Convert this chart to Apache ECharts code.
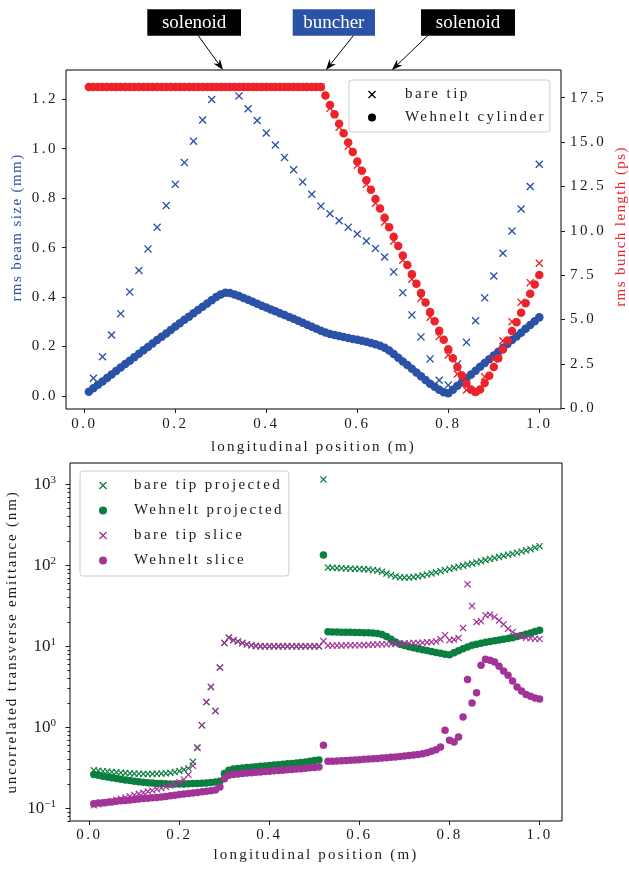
<!DOCTYPE html>
<html><head><meta charset="utf-8">
<script src="https://cdn.jsdelivr.net/npm/echarts@6/dist/echarts.min.js"></script>
<style>html,body{margin:0;padding:0;background:#fff}#c{width:629px;height:870px}</style>
</head><body><div id="c"></div>
<script>
// letter-spacing helper: a font family token "lsXpY" requests X.Y px spacing
(function () {
  var P = window.CanvasRenderingContext2D && CanvasRenderingContext2D.prototype;
  if (!P || !('letterSpacing' in P)) return;
  function sp(font) { var m = /ls(\d+)p(\d+)/.exec(font); return m ? (m[1] + '.' + m[2] + 'px') : '0px'; }
  var ft = P.fillText, mt = P.measureText;
  P.fillText = function (t, x, y, w) { this.letterSpacing = sp(this.font); return w === undefined ? ft.call(this, t, x, y) : ft.call(this, t, x, y, w); };
  P.measureText = function (t) { this.letterSpacing = (t === '\u56fd') ? '0px' : sp(this.font); return mt.call(this, t); };
})();

// ---------- data ----------
const pos01 = [0.01,0.02,0.03,0.04,0.05,0.06,0.07,0.08,0.09,0.10,
  0.11,0.12,0.13,0.14,0.15,0.16,0.17,0.18,0.19,0.20,
  0.21,0.22,0.23,0.24,0.25,0.26,0.27,0.28,0.29,0.30,
  0.31,0.32,0.33,0.34,0.35,0.36,0.37,0.38,0.39,0.40,
  0.41,0.42,0.43,0.44,0.45,0.46,0.47,0.48,0.49,0.50,
  0.51,0.52,0.53,0.54,0.55,0.56,0.57,0.58,0.59,0.60,
  0.61,0.62,0.63,0.64,0.65,0.66,0.67,0.68,0.69,0.70,
  0.71,0.72,0.73,0.74,0.75,0.76,0.77,0.78,0.79,0.80,
  0.81,0.82,0.83,0.84,0.85,0.86,0.87,0.88,0.89,0.90,
  0.91,0.92,0.93,0.94,0.95,0.96,0.97,0.98,0.99,1.00];
const pos02 = [0.02,0.04,0.06,0.08,0.10,0.12,0.14,0.16,0.18,0.20,
  0.22,0.24,0.26,0.28,0.30,0.32,0.34,0.36,0.38,0.40,
  0.42,0.44,0.46,0.48,0.50,0.52,0.54,0.56,0.58,0.60,
  0.62,0.64,0.66,0.68,0.70,0.72,0.74,0.76,0.78,0.80,
  0.82,0.84,0.86,0.88,0.90,0.92,0.94,0.96,0.98,1.00];

// top panel: rms beam size (mm)
const tipBeamSize = [0.072,0.159,0.247,0.333,0.421,0.508,0.595,0.682,0.770,0.856,
  0.944,1.030,1.116,1.199,1.250,1.250,1.213,1.162,1.114,1.064,
  1.015,0.965,0.915,0.866,0.816,0.768,0.737,0.709,0.682,0.655,
  0.627,0.597,0.562,0.502,0.418,0.328,0.239,0.150,0.064,0.044,
  0.129,0.217,0.304,0.397,0.485,0.577,0.667,0.756,0.847,0.937];
const wehBeamSize = [0.017,0.031,0.045,0.059,0.073,0.087,0.101,0.115,0.129,0.143,
  0.157,0.171,0.185,0.198,0.212,0.226,0.240,0.253,0.267,0.281,
  0.294,0.308,0.321,0.335,0.348,0.361,0.374,0.387,0.400,0.411,
  0.418,0.417,0.411,0.404,0.396,0.389,0.381,0.373,0.365,0.358,
  0.350,0.343,0.335,0.328,0.320,0.312,0.304,0.296,0.288,0.280,
  0.272,0.264,0.257,0.251,0.247,0.243,0.239,0.235,0.231,0.227,
  0.223,0.219,0.214,0.209,0.203,0.195,0.184,0.170,0.155,0.140,
  0.125,0.110,0.095,0.080,0.065,0.050,0.037,0.025,0.015,0.011,
  0.025,0.041,0.056,0.072,0.087,0.102,0.118,0.133,0.149,0.164,
  0.179,0.195,0.210,0.226,0.241,0.256,0.272,0.287,0.302,0.318];
// top panel: rms bunch length (ps)
const tipBunch = [18.1,18.1,18.1,18.1,18.1,18.1,18.1,18.1,18.1,18.1,
  18.1,18.1,18.1,18.1,18.1,18.1,18.1,18.1,18.1,18.1,
  18.1,18.1,18.1,18.1,18.1,18.1,16.9,15.83,14.76,13.69,
  12.62,11.55,10.48,9.41,8.34,7.27,6.2,5.13,4.04,3.0,
  1.93,1.03,0.94,1.78,2.76,3.81,4.88,5.97,7.08,8.17];
const wehBunch = [18.1,18.1,18.1,18.1,18.1,18.1,18.1,18.1,18.1,18.1,
  18.1,18.1,18.1,18.1,18.1,18.1,18.1,18.1,18.1,18.1,
  18.1,18.1,18.1,18.1,18.1,18.1,18.1,18.1,18.1,18.1,
  18.1,18.1,18.1,18.1,18.1,18.1,18.1,18.1,18.1,18.1,
  18.1,18.1,18.1,18.1,18.1,18.1,18.1,18.1,18.1,18.1,
  18.1,18.1,17.62,17.09,16.56,16.03,15.50,14.97,14.44,13.91,
  13.38,12.85,12.32,11.79,11.26,10.73,10.20,9.67,9.14,8.61,
  8.08,7.55,7.02,6.49,5.96,5.43,4.90,4.37,3.86,3.33,
  2.82,2.33,1.85,1.40,1.06,0.92,1.06,1.43,1.83,2.33,
  2.82,3.32,3.82,4.35,4.85,5.38,5.92,6.45,6.98,7.51];

// bottom panel: uncorrelated transverse emittance (nm)
const tipProjected = [0.294,0.290,0.287,0.284,0.281,0.278,0.275,0.272,0.270,0.268,
  0.267,0.266,0.266,0.266,0.267,0.268,0.270,0.274,0.280,0.288,
  0.300,0.312,0.375,0.565,1.06,2.05,3.15,1.59,5.46,11.0,
  12.8,11.9,11.5,11.0,10.6,10.3,10.1,10.0,10.0,10.0,
  10.0,10.0,10.0,10.0,10.0,10.0,10.0,10.0,10.0,10.0,
  10.0,1150,93.8,93.0,92.5,92.0,91.5,91.0,90.5,90.0,
  89.5,89.0,87.5,86.0,83.0,79.0,76.0,73.0,71.0,70.5,
  70.5,71.5,73.0,75.0,77.0,79.5,82.0,84.5,87.5,90.0,
  93,96,99,102,105,108.5,112,116,119.5,123,
  127,131,135,139,143,148,153,158,165,172];
const wehProjected = [0.261,0.255,0.249,0.243,0.238,0.233,0.228,0.224,0.220,0.216,
  0.213,0.210,0.207,0.205,0.203,0.202,0.201,0.200,0.200,0.200,
  0.200,0.201,0.202,0.203,0.204,0.206,0.208,0.211,0.216,0.268,
  0.296,0.305,0.310,0.314,0.318,0.322,0.326,0.330,0.334,0.338,
  0.342,0.346,0.350,0.354,0.358,0.363,0.368,0.374,0.380,0.388,
  0.395,134,15.1,15.0,15.0,14.95,14.9,14.9,14.85,14.8,
  14.75,14.7,14.6,14.4,14.0,13.2,12.2,11.3,10.6,10.2,
  9.9,9.6,9.35,9.1,8.9,8.65,8.4,8.2,8.0,7.85,
  8.3,8.8,9.3,9.8,10.3,10.6,10.9,11.2,11.45,11.7,
  11.95,12.2,12.5,12.8,13.2,13.6,14.1,14.6,15.2,15.8];
const tipSlice = [0.109,0.112,0.115,0.119,0.123,0.127,0.131,0.136,0.141,0.146,
  0.151,0.156,0.161,0.166,0.172,0.178,0.184,0.191,0.199,0.210,
  0.227,0.260,0.335,0.555,1.06,2.05,3.15,1.59,5.46,11.0,
  12.8,11.9,11.5,11.0,10.6,10.3,10.1,10.0,10.0,10.0,
  10.0,10.0,10.0,10.0,10.0,10.0,10.0,10.0,10.0,10.0,
  10.0,11.6,10.2,10.2,10.2,10.2,10.3,10.3,10.3,10.3,
  10.4,10.4,10.5,10.5,10.6,10.6,10.7,10.8,10.8,10.9,
  10.9,11.0,11.0,11.1,11.2,11.3,11.5,12.2,13.7,11.9,
  12.1,12.7,16.8,58.5,31.5,19.9,20.4,24.1,24.6,23.0,
  20.9,18.7,16.5,15.0,13.7,13.3,12.8,12.6,12.4,12.3];
const wehSlice = [0.114,0.116,0.117,0.119,0.120,0.122,0.124,0.125,0.127,0.128,
  0.130,0.132,0.133,0.135,0.136,0.138,0.140,0.143,0.145,0.148,
  0.150,0.152,0.155,0.157,0.160,0.162,0.165,0.168,0.183,0.232,
  0.255,0.262,0.266,0.269,0.272,0.275,0.278,0.281,0.284,0.287,
  0.290,0.293,0.296,0.299,0.302,0.305,0.308,0.312,0.316,0.320,
  0.324,0.600,0.380,0.382,0.384,0.387,0.390,0.393,0.396,0.399,
  0.402,0.405,0.409,0.413,0.417,0.421,0.426,0.431,0.436,0.442,
  0.448,0.455,0.463,0.472,0.485,0.505,0.530,0.570,0.920,0.690,
  0.660,0.760,1.34,3.90,2.00,2.67,5.82,6.90,6.75,6.40,
  5.66,4.95,4.39,3.73,3.15,2.81,2.55,2.41,2.30,2.24];

// ticks
const posTicks = [0, 0.2, 0.4, 0.6, 0.8, 1.0];
const beamTicks = [0, 0.2, 0.4, 0.6, 0.8, 1.0, 1.2];
const bunchTicks = [0, 2.5, 5.0, 7.5, 10.0, 12.5, 15.0, 17.5];
const emitTicks = [0.1, 1, 10, 100, 1000];
const emitMinorTicks = [0.07,0.08,0.09,0.2,0.3,0.4,0.5,0.6,0.7,0.8,0.9,2,3,4,5,6,7,8,9,
  20,30,40,50,60,70,80,90,200,300,400,500,600,700,800,900];
// annotations (label, target position along beamline in m)
const noteLabels = ['solenoid', 'buncher', 'solenoid'];
const noteTargets = [0.305, 0.531, 0.676];

// ---------- styling ----------
const BLUE = '#2a52a6', RED = '#ee2229', GREEN = '#0a7f3f', PURPLE = '#a23497', INK = '#1a1a1a';
function ff(ls) { return "'Liberation Serif', ls" + ls.toFixed(1).replace('.', 'p'); }
const CROSS = 'path://M0,1.2L1.2,0L5,3.8L8.8,0L10,1.2L6.2,5L10,8.8L8.8,10L5,6.2L1.2,10L0,8.8L3.8,5Z';
const pts = (xs, ys) => xs.map((x, i) => [x, ys[i]]);
const lab = (extra) => Object.assign({ fontFamily: ff(2.5), fontSize: 15, color: INK, lineHeight: 15 }, extra);
const NOLINE = { show: false, onZero: false };

const EMIN = 0.0697, EMAX = 1833;
const chart = echarts.init(document.getElementById('c'), null, { renderer: 'canvas' });

function scatter(name, xi, yi, data, symbol, size, color) {
  return { type: 'scatter', name, xAxisIndex: xi, yAxisIndex: yi, data, symbol, symbolSize: size,
    itemStyle: { color, opacity: 1 }, silent: true, emphasis: { disabled: true }, animation: false };
}

const option = {
  animation: false,
  backgroundColor: '#fff',
  grid: [
    { left: 66, right: 68, top: 70, height: 339, show: true, borderColor: '#000', borderWidth: 1, backgroundColor: 'transparent', outerBoundsMode: 'none' },
    { left: 70, right: 67, top: 463, height: 358, show: true, borderColor: '#000', borderWidth: 1, backgroundColor: 'transparent', outerBoundsMode: 'none' }
  ],
  xAxis: [
    { type: 'value', gridIndex: 0, position: 'bottom', min: -0.0402, max: 1.0477, splitLine: { show: false }, axisLine: NOLINE,
      axisTick: { customValues: posTicks, length: 4, lineStyle: { color: INK } },
      axisLabel: lab({ customValues: posTicks, formatter: v => v.toFixed(1), margin: 8 }),
      name: 'longitudinal position (m)', nameLocation: 'middle', nameGap: 31, nameMoveOverlap: false,
      nameTextStyle: { fontFamily: ff(2.2), fontSize: 15, color: INK, lineHeight: 15 } },
    { type: 'value', gridIndex: 1, position: 'bottom', min: -0.0429, max: 1.0498, splitLine: { show: false }, axisLine: NOLINE,
      axisTick: { customValues: posTicks, length: 4, lineStyle: { color: INK } },
      axisLabel: lab({ customValues: posTicks, formatter: v => v.toFixed(1), margin: 7 }),
      name: 'longitudinal position (m)', nameLocation: 'middle', nameGap: 27, nameMoveOverlap: false,
      nameTextStyle: { fontFamily: ff(2.2), fontSize: 15, color: INK, lineHeight: 15 } }
  ],
  yAxis: [
    { type: 'value', gridIndex: 0, position: 'left', min: -0.0526, max: 1.3185, splitLine: { show: false }, axisLine: NOLINE,
      axisTick: { customValues: beamTicks, length: 4, lineStyle: { color: INK } },
      axisLabel: lab({ customValues: beamTicks, formatter: v => v.toFixed(1), margin: 8 }),
      name: 'rms beam size (mm)', nameLocation: 'middle', nameGap: 41.5, nameRotate: 90, nameMoveOverlap: false,
      nameTextStyle: { fontFamily: ff(1.4), fontSize: 15, color: BLUE, lineHeight: 15, padding: [0, 0, 0, 24] } },
    { type: 'value', gridIndex: 0, position: 'right', min: -0.039, max: 19.06, splitLine: { show: false }, axisLine: NOLINE,
      axisTick: { customValues: bunchTicks, length: 4, lineStyle: { color: INK } },
      axisLabel: lab({ customValues: bunchTicks, formatter: v => v.toFixed(1), margin: 9 }),
      name: 'rms bunch length (ps)', nameLocation: 'middle', nameGap: 52.5, nameRotate: 90, nameMoveOverlap: false,
      nameTextStyle: { fontFamily: ff(1.4), fontSize: 15, color: RED, lineHeight: 15, padding: [0, 0, 0, 26] } },
    { type: 'log', logBase: 10, gridIndex: 1, position: 'left', min: EMIN, max: EMAX,
      splitLine: { show: false }, axisLine: NOLINE, axisTick: { show: false }, axisLabel: { show: false } },
    { type: 'value', gridIndex: 1, position: 'left', min: Math.log10(EMIN), max: Math.log10(EMAX),
      splitLine: { show: false }, axisLine: NOLINE,
      axisTick: { customValues: emitTicks.map(Math.log10), length: 4.5, lineStyle: { color: INK } },
      axisLabel: { customValues: emitTicks.map(Math.log10), margin: 14,
        formatter: v => { const e = Math.round(v); return '{b|10}{s|' + (e < 0 ? '\u2212' + (-e) : e) + '}'; },
        rich: { b: { fontFamily: "'Liberation Serif'", fontSize: 17, color: INK, lineHeight: 19 },
                s: { fontFamily: "'Liberation Serif'", fontSize: 11, color: INK, lineHeight: 11, verticalAlign: 'top' } } },
      name: 'uncorrelated transverse emittance (nm)', nameLocation: 'middle', nameGap: 50, nameRotate: 90, nameMoveOverlap: false,
      nameTextStyle: { fontFamily: ff(1.8), fontSize: 15, color: INK, lineHeight: 15 } },
    { type: 'value', gridIndex: 1, position: 'left', min: Math.log10(EMIN), max: Math.log10(EMAX),
      splitLine: { show: false }, axisLine: NOLINE, axisLabel: { show: false },
      axisTick: { customValues: emitMinorTicks.map(Math.log10), length: 2.5, lineStyle: { color: INK } } }
  ],
  legend: [
    { left: 349, top: 80, orient: 'vertical', itemWidth: 8, itemHeight: 8, itemGap: 8,
      padding: [7, 4, 7, 19], backgroundColor: 'rgba(255,255,255,0.85)', borderColor: '#cccccc', borderWidth: 1, borderRadius: 3,
      textStyle: { fontFamily: ff(2.4), fontSize: 15, color: INK, lineHeight: 15, padding: [0, 0, 0, 24] },
      data: ['bare tip', 'Wehnelt cylinder'], selectedMode: false },
    { left: 80, top: 471, orient: 'vertical', itemWidth: 8, itemHeight: 8, itemGap: 10,
      padding: [7, 5, 8, 19], backgroundColor: 'rgba(255,255,255,0.85)', borderColor: '#cccccc', borderWidth: 1, borderRadius: 3,
      textStyle: { fontFamily: ff(2.4), fontSize: 15, color: INK, lineHeight: 15, padding: [0, 0, 0, 22] },
      data: ['bare tip projected', 'Wehnelt projected', 'bare tip slice', 'Wehnelt slice'], selectedMode: false }
  ],
  series: [
    scatter('bare tip', 0, 0, [], CROSS, 8, '#000'),
    scatter('Wehnelt cylinder', 0, 0, [], 'circle', 8, '#000'),
    scatter('bare tip beam size', 0, 0, pts(pos02, tipBeamSize), CROSS, 8, BLUE),
    scatter('Wehnelt beam size', 0, 0, pts(pos01, wehBeamSize), 'circle', 8.5, BLUE),
    scatter('bare tip bunch length', 0, 1, pts(pos02, tipBunch), CROSS, 8, RED),
    scatter('Wehnelt bunch length', 0, 1, pts(pos01, wehBunch), 'circle', 8.5, RED),
    scatter('bare tip projected', 1, 2, pts(pos01, tipProjected), CROSS, 7, GREEN),
    scatter('Wehnelt projected', 1, 2, pts(pos01, wehProjected), 'circle', 7.5, GREEN),
    scatter('bare tip slice', 1, 2, pts(pos01, tipSlice), CROSS, 7, PURPLE),
    scatter('Wehnelt slice', 1, 2, pts(pos01, wehSlice), 'circle', 7.5, PURPLE)
  ]
};
chart.setOption(option);

// annotation boxes with arrows pointing at the top of the upper panel
(function () {
  const boxes = [
    { x: 147.3, w: 93.7, fill: '#000', tail: 198.3 },
    { x: 292.7, w: 82.3, fill: BLUE, tail: 353.3 },
    { x: 421.0, w: 94.0, fill: '#000', tail: 427.7 }
  ];
  const boxTop = 9.3, boxH = 26.4;
  const els = [];
  boxes.forEach((b, i) => {
    els.push({ type: 'rect', shape: { x: b.x, y: boxTop, width: b.w, height: boxH }, style: { fill: b.fill }, silent: true });
    els.push({ type: 'text', x: b.x + b.w / 2, y: boxTop + boxH / 2 + 0.5, silent: true,
      style: { text: noteLabels[i], fill: '#fff', font: "19px 'Liberation Serif'", align: 'center', verticalAlign: 'middle' } });
    const tip = chart.convertToPixel({ xAxisIndex: 0, yAxisIndex: 0 }, [noteTargets[i], 1.3185]);
    const sx = b.tail, sy = boxTop + boxH;
    const dx = tip[0] - sx, dy = tip[1] - sy, L = Math.hypot(dx, dy);
    const ux = dx / L, uy = dy / L, px = -uy, py = ux;
    const HL = 11, HW = 4, NOTCH = 7.5;
    els.push({ type: 'polyline', silent: true, shape: { points: [[sx, sy], [tip[0] - ux * NOTCH, tip[1] - uy * NOTCH]] },
      style: { stroke: '#000', lineWidth: 1, fill: null } });
    els.push({ type: 'polygon', silent: true, shape: { points: [
      [tip[0], tip[1]],
      [tip[0] - ux * HL + px * HW, tip[1] - uy * HL + py * HW],
      [tip[0] - ux * NOTCH, tip[1] - uy * NOTCH],
      [tip[0] - ux * HL - px * HW, tip[1] - uy * HL - py * HW]] }, style: { fill: '#000' } });
  });
  chart.setOption({ graphic: { elements: els } });
})();
</script></body></html>
